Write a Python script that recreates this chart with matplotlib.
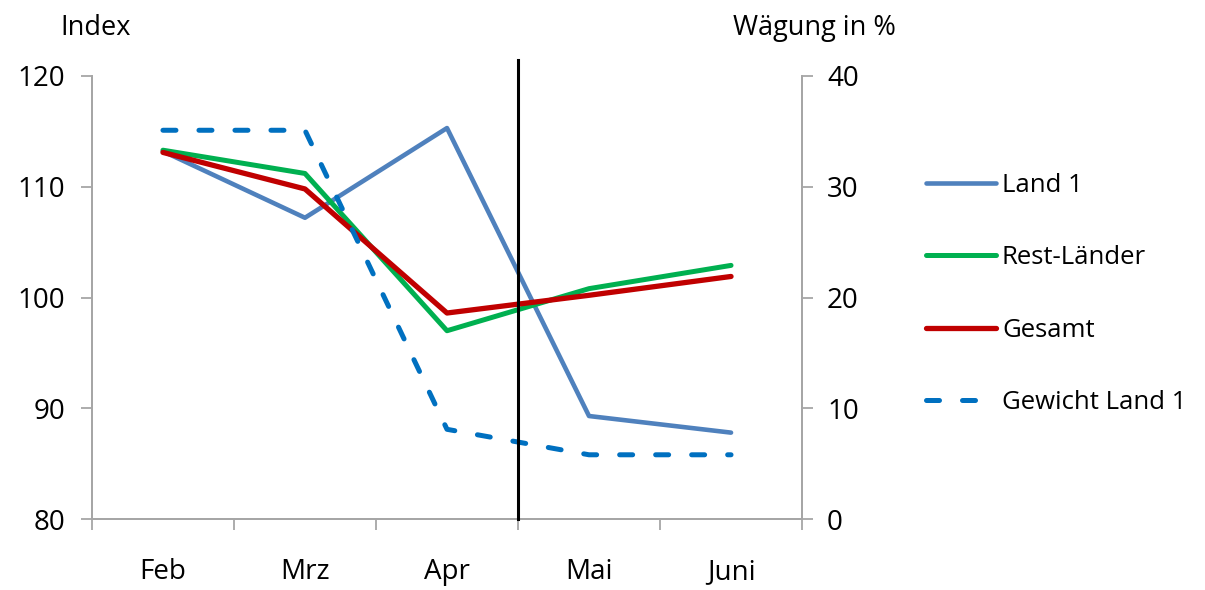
import matplotlib.pyplot as plt
from matplotlib.ticker import FixedLocator

plt.rcParams['font.family'] = ['Open Sans', 'DejaVu Sans']

months = ['Feb', 'Mrz', 'Apr', 'Mai', 'Juni']
land1 = [113.2, 107.2, 115.3, 89.3, 87.8]
rest = [113.3, 111.2, 97.0, 100.8, 102.9]
gesamt = [113.1, 109.8, 98.6, 100.2, 101.9]
gewicht = [35.1, 35.1, 8.1, 5.8, 5.8]

x = list(range(len(months)))
grey = '#A6A6A6'

fig = plt.figure(figsize=(12.05, 5.9), dpi=100)
ax = fig.add_axes([0.0763, 0.1203, 0.5893, 0.7509])
ax2 = ax.twinx()

l1, = ax.plot(x, land1, color='#4F81BD', lw=3.3, label='Land 1', solid_capstyle='round')
l2, = ax.plot(x, rest, color='#00B050', lw=3.6, label='Rest-Länder', solid_capstyle='round')
l3, = ax.plot(x, gesamt, color='#C00000', lw=3.8, label='Gesamt', solid_capstyle='round')
l4, = ax2.plot(x, gewicht, color='#0070C0', lw=3.6, ls=(0, (2.6, 4.6)),
               dash_capstyle='round', label='Gewicht Land 1')

# Trennlinie zwischen Apr und Mai
ax2.plot([2.5, 2.5], [0, 41.4], color='black', lw=2.2, clip_on=False, zorder=5)

ax.set_xlim(-0.5, 4.5)
ax.set_ylim(80, 120)
ax2.set_ylim(0, 40)
ax.set_yticks([80, 90, 100, 110, 120])
ax2.set_yticks([0, 10, 20, 30, 40])

ax.xaxis.set_major_locator(FixedLocator([-0.5, 0.5, 1.5, 2.5, 3.5, 4.5]))
ax.xaxis.set_minor_locator(FixedLocator(x))
ax.set_xticklabels([''] * 6)
ax.set_xticklabels(months, minor=True)
ax.tick_params(axis='x', which='major', length=8, color=grey, width=1.3)
ax.tick_params(axis='x', which='minor', length=0, pad=28, labelsize=20)
ax.tick_params(axis='y', length=8, color=grey, width=1.3, labelsize=20, pad=11)
ax2.tick_params(axis='y', length=8, color=grey, width=1.3, labelsize=20, pad=10)

for a in (ax, ax2):
    a.spines['top'].set_visible(False)
    for s in ('left', 'right', 'bottom'):
        a.spines[s].set_color(grey)
        a.spines[s].set_linewidth(1.3)

fig.text(60 / 1205, 1 - 28 / 590, 'Index', fontsize=19.5, va='center', ha='left')
fig.text(896 / 1205, 1 - 28 / 590, 'Wägung in %', fontsize=19.5, va='center', ha='right')

fig.legend(handles=[l1, l2, l3, l4], loc='upper left',
           bbox_to_anchor=(903 / 1205, 1 - 150 / 590), frameon=False,
           fontsize=18.5, handlelength=2.7, handletextpad=0.25, labelspacing=1.84)

fig.savefig('out.png', dpi=100)
